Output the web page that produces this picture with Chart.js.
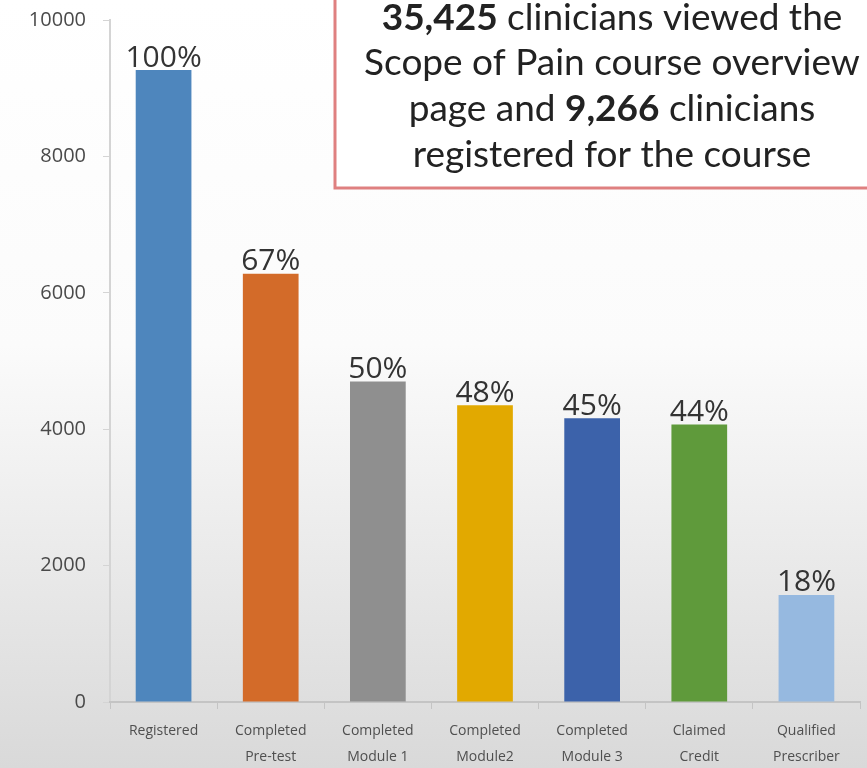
<!DOCTYPE html>
<html>
<head>
<meta charset="utf-8">
<script src="https://cdn.jsdelivr.net/npm/chart.js@4"></script>
<style>
  html, body { margin: 0; padding: 0; background: #fff; }
  #wrap { width: 867px; height: 768px; position: relative; }
</style>
</head>
<body>
<div id="wrap"><canvas id="funnelChart" width="867" height="768"></canvas></div>
<script>
const categories = [
  "Registered",
  ["Completed", "Pre-test"],
  ["Completed", "Module 1"],
  ["Completed", "Module2"],
  ["Completed", "Module 3"],
  ["Claimed", "Credit"],
  ["Qualified", "Prescriber"],
];
const clinicians = [9266, 6280, 4700, 4350, 4160, 4070, 1570];
const percentLabels = ["100%", "67%", "50%", "48%", "45%", "44%", "18%"];
const barColors = ["#4e86bd", "#d36b29", "#8f8f8f", "#e2a900", "#3c62aa", "#5f9a3b", "#96b9e0"];
const yTicks = [0, 2000, 4000, 6000, 8000, 10000];
const noteLines = [
  [["35,425", true], [" clinicians viewed the", false]],
  [["Scope of Pain course overview", false]],
  [["page and ", false], ["9,266", true], [" clinicians", false]],
  [["registered for the course", false]],
];

const bgPlugin = {
  id: "bg",
  beforeDraw(chart) {
    const c = chart.ctx;
    const g = c.createLinearGradient(0, 0, 0, chart.height);
    g.addColorStop(0, "#ffffff");
    g.addColorStop(0.45, "#fbfbfb");
    g.addColorStop(1, "#d9d9d9");
    c.save();
    c.fillStyle = g;
    c.fillRect(0, 0, chart.width, chart.height);
    c.restore();
  },
};

const labelPlugin = {
  id: "pctLabels",
  afterDatasetsDraw(chart) {
    const c = chart.ctx;
    const meta = chart.getDatasetMeta(0);
    c.save();
    c.font = "30px 'Open Sans', sans-serif";
    c.fillStyle = "#333333";
    c.textAlign = "center";
    c.textBaseline = "bottom";
    meta.data.forEach((bar, i) => {
      c.fillText(percentLabels[i], bar.x, bar.y + 3);
    });
    c.restore();
  },
};

const notePlugin = {
  id: "note",
  afterDraw(chart) {
    const c = chart.ctx;
    c.save();
    c.fillStyle = "#ffffff";
    c.fillRect(335, -5, 540, 193);
    c.strokeStyle = "#df8080";
    c.lineWidth = 3;
    c.strokeRect(335, -5, 540, 193);
    c.fillStyle = "#222";
    c.textBaseline = "middle";
    const cx = 612;
    const ys = [18, 63, 109, 155];
    const fam = "37px Lato, sans-serif";
    noteLines.forEach((parts, li) => {
      let w = 0;
      parts.forEach(([t, b]) => {
        c.font = (b ? "bold " : "") + fam;
        w += c.measureText(t).width;
      });
      let x = cx - w / 2;
      c.textAlign = "left";
      parts.forEach(([t, b]) => {
        c.font = (b ? "bold " : "") + fam;
        c.fillText(t, x, ys[li]);
        x += c.measureText(t).width;
      });
    });
    c.restore();
  },
};

const ctx = document.getElementById("funnelChart").getContext("2d");
new Chart(ctx, {
  type: "bar",
  data: {
    labels: categories,
    datasets: [
      {
        label: "Clinicians",
        data: clinicians,
        backgroundColor: barColors,
        barPercentage: 0.52,
        categoryPercentage: 1,
      },
    ],
  },
  options: {
    responsive: false,
    animation: false,
    layout: { padding: { top: 20, right: 7, left: 0, bottom: 0 } },
    plugins: { legend: { display: false }, tooltip: { enabled: false } },
    scales: {
      y: {
        min: 0,
        max: 10000,
        afterBuildTicks: (s) => { s.ticks = yTicks.map((v) => ({ value: v })); },
        afterFit: (s) => { s.width = 110; s.paddingTop = 0; s.paddingBottom = 0; },
        border: { color: "#d4d4d4", width: 2 },
        grid: { drawOnChartArea: false, tickLength: 7, color: "#d4d4d4" },
        ticks: {
          color: "#4a4a4a",
          padding: 17,
          callback: (v) => String(v),
          font: { family: "'Open Sans', sans-serif", size: 20 },
        },
      },
      x: {
        afterFit: (s) => { s.height = 66; },
        border: { color: "#c4c4c4", width: 2 },
        grid: { drawOnChartArea: false, tickLength: 7, color: "#c4c4c4" },
        ticks: {
          color: "#4f4f4f",
          maxRotation: 0,
          autoSkip: false,
          padding: 9,
          font: { family: "'Open Sans', sans-serif", size: 14, lineHeight: 1.85 },
        },
      },
    },
  },
  plugins: [bgPlugin, labelPlugin, notePlugin],
});
</script>
</body>
</html>
